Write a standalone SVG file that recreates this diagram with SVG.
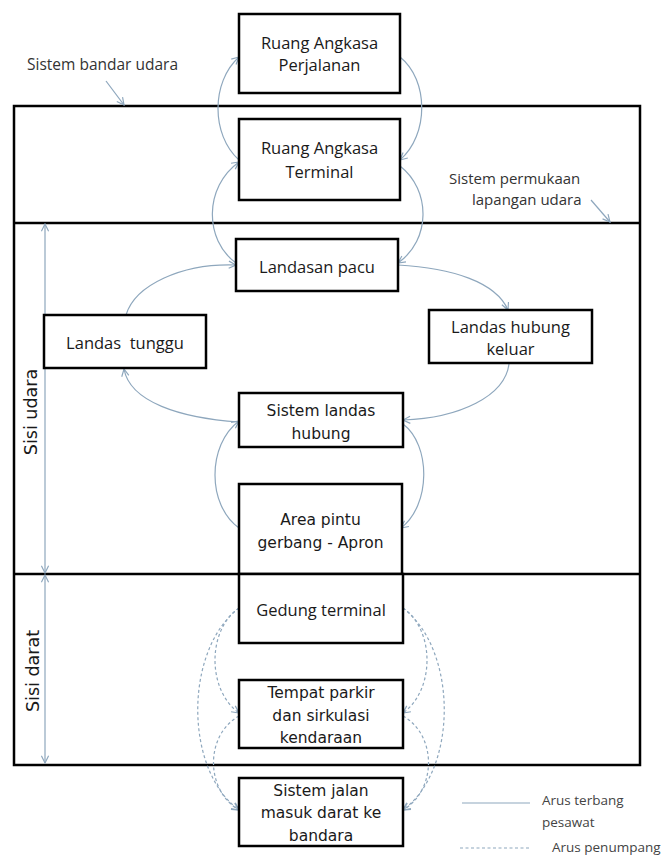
<svg xmlns="http://www.w3.org/2000/svg" width="663" height="855" viewBox="0 0 663 855">
<style>
.frame{fill:none;stroke:#000;stroke-width:2.5}
.box{fill:#fff;stroke:#000;stroke-width:2.5}
.t1{font-family:"Open Sans","Noto Sans",sans-serif;font-size:16.5px;fill:#1a1a1a;text-anchor:middle}
.t2{font-family:"DejaVu Sans","Noto Sans",sans-serif;font-size:15.5px;fill:#1a1a1a;text-anchor:middle}
.lbl{font-family:"Open Sans","Noto Sans",sans-serif;font-size:15.5px;fill:#333}
.lbl2{font-family:"Open Sans","Noto Sans",sans-serif;font-size:15px;fill:#333}
.side{font-family:"DejaVu Sans",sans-serif;font-size:17.5px;fill:#1a1a1a;text-anchor:middle}
.leg{font-family:"Open Sans","Noto Sans",sans-serif;font-size:13.5px;fill:#444}
.flow{fill:none;stroke:#8ea7bd;stroke-width:1.2;marker-end:url(#ah)}
.pax{fill:none;stroke:#8ea7bd;stroke-width:1.2;stroke-dasharray:3 2.5;marker-end:url(#ah)}
.ptr{fill:none;stroke:#8ea7bd;stroke-width:1.2}
</style>
<defs>
<marker id="ah" viewBox="0 0 10 10" refX="9" refY="5" markerWidth="9" markerHeight="9" markerUnits="userSpaceOnUse" orient="auto">
<path d="M1,1 L9,5 L1,9" fill="none" stroke="#8ea7bd" stroke-width="1.3"/>
</marker>
<marker id="ahs" viewBox="0 0 10 10" refX="9" refY="5" markerWidth="9" markerHeight="9" markerUnits="userSpaceOnUse" orient="auto-start-reverse">
<path d="M1,1 L9,5 L1,9" fill="none" stroke="#8ea7bd" stroke-width="1.3"/>
</marker>
</defs>
<rect width="663" height="855" fill="#fff"/>

<g id="frame">
<rect class="frame" x="14" y="106" width="626" height="659"/>
<line class="frame" x1="14" y1="223" x2="640" y2="223"/>
<line class="frame" x1="14" y1="574" x2="640" y2="574"/>
</g>

<g id="connectors">
<path class="flow" d="M239,160 C211,135 211,82 239,57"/>
<path class="flow" d="M236,263 C204,240 204,187 239,162"/>
<path class="flow" d="M400,57 C429,80 429,135 400,160"/>
<path class="flow" d="M400,166 C431,190 431,240 398,263"/>
<path class="flow" d="M126,315 C135,285 182,263 236,265"/>
<path class="flow" d="M398,265 C452,268 496,282 508,310"/>
<path class="flow" d="M509,364 C505,396 460,418 403,420"/>
<path class="flow" d="M239,422 C180,418 130,402 124,369"/>
<path class="flow" d="M239,528 C207,505 207,445 239,421"/>
<path class="flow" d="M403,424 C431,445 431,505 401,528"/>
<path class="pax" d="M239,608 C207,630 207,690 239,713"/>
<path class="pax" d="M239,608 C184,650 184,770 239,810"/>
<path class="pax" d="M239,716 C205,735 205,790 239,810"/>
<path class="pax" d="M403,608 C435,630 435,690 403,713"/>
<path class="pax" d="M403,608 C458,650 458,770 403,810"/>
<path class="pax" d="M403,716 C437,735 437,790 403,810"/>
<line class="ptr" x1="45" y1="224" x2="45" y2="573" marker-start="url(#ahs)" marker-end="url(#ahs)"/>
<line class="ptr" x1="45" y1="575" x2="45" y2="763" marker-start="url(#ahs)" marker-end="url(#ahs)"/>
<line class="ptr" x1="106" y1="81" x2="124" y2="105" marker-end="url(#ah)"/>
<line class="ptr" x1="591" y1="200" x2="610" y2="222" marker-end="url(#ah)"/>
</g>

<g id="n-perjalanan">
<rect class="box" x="239" y="14" width="161" height="79"/>
<text class="t1" x="319.5" y="49">Ruang Angkasa</text>
<text class="t1" x="319.5" y="71">Perjalanan</text>
</g>
<g id="n-terminal-space">
<rect class="box" x="239" y="119" width="161" height="81"/>
<text class="t1" x="319.5" y="154">Ruang Angkasa</text>
<text class="t1" x="319.5" y="178">Terminal</text>
</g>
<g id="n-landasan-pacu">
<rect class="box" x="236" y="239" width="162" height="52"/>
<text class="t1" x="317" y="273">Landasan pacu</text>
</g>
<g id="n-landas-tunggu">
<rect class="box" x="44" y="315" width="162" height="53"/>
<text class="t1" x="125" y="349" xml:space="preserve">Landas  tunggu</text>
</g>
<g id="n-landas-hubung-keluar">
<rect class="box" x="429" y="310" width="163" height="53"/>
<text class="t1" x="510.5" y="333">Landas hubung</text>
<text class="t1" x="510.5" y="355">keluar</text>
</g>
<g id="n-sistem-landas-hubung">
<rect class="box" x="239" y="393" width="164" height="54"/>
<text class="t2" x="321" y="415.5">Sistem landas</text>
<text class="t2" x="321" y="438.5">hubung</text>
</g>
<g id="n-apron">
<rect class="box" x="239" y="484" width="163" height="90"/>
<text class="t2" x="320.5" y="524.5">Area pintu</text>
<text class="t2" x="320.5" y="547.5">gerbang - Apron</text>
</g>
<g id="n-gedung-terminal">
<rect class="box" x="239" y="574" width="164" height="69"/>
<text class="t1" x="321" y="616">Gedung terminal</text>
</g>
<g id="n-parkir">
<rect class="box" x="239" y="680" width="164" height="68"/>
<text class="t2" x="321" y="697.5">Tempat parkir</text>
<text class="t2" x="321" y="720.5">dan sirkulasi</text>
<text class="t2" x="321" y="742.5">kendaraan</text>
</g>
<g id="n-jalan-masuk">
<rect class="box" x="239" y="778" width="164" height="68"/>
<text class="t2" x="321" y="795.5">Sistem jalan</text>
<text class="t2" x="321" y="818">masuk darat ke</text>
<text class="t2" x="321" y="840.5">bandara</text>
</g>

<g id="labels">
<text class="lbl" x="27" y="70">Sistem bandar udara</text>
<text class="lbl2" x="449" y="184">Sistem permukaan</text>
<text class="lbl2" x="472" y="205">lapangan udara</text>
<text class="side" transform="translate(37,412) rotate(-90)">Sisi udara</text>
<text class="side" transform="translate(39,671) rotate(-90)">Sisi darat</text>
</g>

<g id="legend">
<line x1="462" y1="803" x2="530" y2="803" stroke="#8ea7bd" stroke-width="1.2"/>
<text class="leg" x="542" y="805">Arus terbang</text>
<text class="leg" x="542" y="827">pesawat</text>
<line x1="460" y1="848" x2="530" y2="848" stroke="#8ea7bd" stroke-width="1.2" stroke-dasharray="3 2.5"/>
<text class="leg" x="552" y="852">Arus penumpang</text>
</g>
</svg>
